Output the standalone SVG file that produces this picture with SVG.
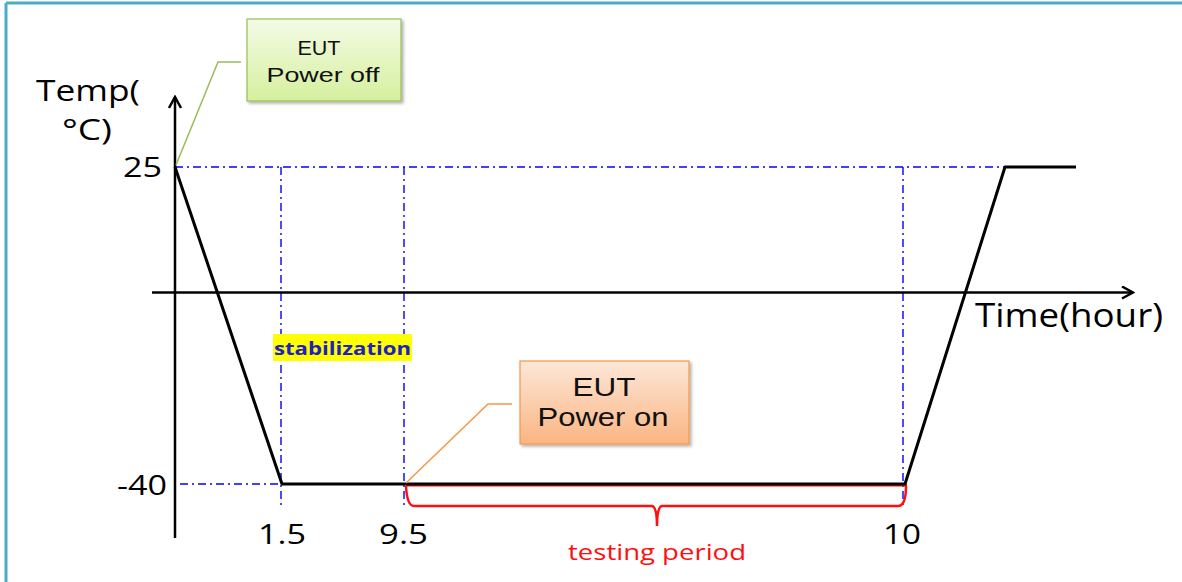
<svg xmlns="http://www.w3.org/2000/svg" width="1182" height="582" viewBox="0 0 1182 582">
<style>
.ax{stroke:#000;stroke-width:2.5;fill:none}
.curve{stroke:#000;stroke-width:3;fill:none;stroke-linejoin:round}
.grid{stroke:#0000ff;stroke-width:1.4;stroke-dasharray:8 4 2 4;fill:none}
.lbl{font-family:"Open Sans","DejaVu Sans",sans-serif;fill:#000}
.box{font-family:"Liberation Sans",Arial,sans-serif;fill:#111;text-anchor:middle}
</style>
<defs>
<linearGradient id="gGreen" x1="0" y1="0" x2="0" y2="1">
<stop offset="0" stop-color="#f3fbe6"/><stop offset="1" stop-color="#d6f09e"/>
</linearGradient>
<linearGradient id="gOrange" x1="0" y1="0" x2="0" y2="1">
<stop offset="0" stop-color="#fde7d8"/><stop offset="1" stop-color="#fab582"/>
</linearGradient>
<filter id="sh" x="-10%" y="-10%" width="130%" height="130%">
<feDropShadow dx="2" dy="2" stdDeviation="1.5" flood-color="#000" flood-opacity="0.3"/>
</filter>
<marker id="arr" markerWidth="14" markerHeight="14" refX="12" refY="7" orient="auto" markerUnits="userSpaceOnUse">
<path d="M1,1 L12,7 L1,13" fill="none" stroke="#000" stroke-width="2.5"/>
</marker>
</defs>
<rect width="1182" height="582" fill="#fff"/>
<line x1="6" y1="3" x2="1182" y2="3" stroke="#4bacc6" stroke-width="3"/>
<line x1="6" y1="3" x2="6" y2="582" stroke="#4bacc6" stroke-width="3"/>

<g id="connectors">
<line class="grid" x1="175" y1="167" x2="1005" y2="167"/>
<line class="grid" x1="180" y1="484" x2="905" y2="484"/>
<line class="grid" x1="281" y1="167" x2="281" y2="506"/>
<line class="grid" x1="404" y1="167" x2="404" y2="506"/>
<line class="grid" x1="903" y1="167" x2="903" y2="506"/>
<line class="ax" x1="175" y1="538" x2="175" y2="97" marker-end="url(#arr)"/>
<line class="ax" x1="152" y1="292.5" x2="1133" y2="292.5" marker-end="url(#arr)"/>
<line x1="406" y1="485" x2="907" y2="485" stroke="#ff1010" stroke-width="3"/>
<path d="M406,486 Q407,506 414,506 L652,506 Q657,507 657,526 Q657,507 662,506 L898,506 Q906,506 906,486" fill="none" stroke="#ff1010" stroke-width="2.5"/>
<polyline class="curve" points="175,167 282,484 905,484 1005,167 1076,167"/>
<polyline points="176,165 218,62 241,62" fill="none" stroke="#9bbb59" stroke-width="1.5"/>
<polyline points="406,483 488,404 512,404" fill="none" stroke="#f79646" stroke-width="1.5"/>
</g>

<g id="node-power-off">
<rect x="247" y="19" width="154" height="82" fill="url(#gGreen)" stroke="#9bbb59" stroke-width="1.2" filter="url(#sh)"/>
<text class="box" x="319" y="55" font-size="21" textLength="43" lengthAdjust="spacingAndGlyphs">EUT</text>
<text class="box" x="323" y="82" font-size="21" textLength="113" lengthAdjust="spacingAndGlyphs">Power off</text>
</g>

<g id="node-power-on">
<rect x="520" y="361" width="169" height="83" fill="url(#gOrange)" stroke="#f79646" stroke-width="1.2" filter="url(#sh)"/>
<text class="box" x="604" y="396" font-size="25" textLength="63" lengthAdjust="spacingAndGlyphs">EUT</text>
<text class="box" x="603" y="426" font-size="25" textLength="131" lengthAdjust="spacingAndGlyphs">Power on</text>
</g>

<g id="node-stabilization">
<rect x="273" y="334" width="139" height="27" fill="#ffff00"/>
<text x="274" y="355" font-family="'Open Sans','DejaVu Sans',sans-serif" font-weight="bold" font-size="18" fill="#2020c0" textLength="137" lengthAdjust="spacingAndGlyphs">stabilization</text>
</g>

<g id="labels">
<text class="lbl" x="36" y="101" font-size="30" textLength="104" lengthAdjust="spacingAndGlyphs">Temp(</text>
<text class="lbl" x="62" y="140" font-size="30" textLength="50" lengthAdjust="spacingAndGlyphs">°C)</text>
<text class="lbl" x="123" y="177" font-size="28" textLength="39" lengthAdjust="spacingAndGlyphs">25</text>
<text class="lbl" x="117" y="495" font-size="28" textLength="50" lengthAdjust="spacingAndGlyphs">-40</text>
<text class="lbl" x="258" y="544" font-size="28" textLength="48" lengthAdjust="spacingAndGlyphs">1.5</text>
<text class="lbl" x="379" y="544" font-size="28" textLength="49" lengthAdjust="spacingAndGlyphs">9.5</text>
<text class="lbl" x="883" y="544" font-size="28" textLength="38" lengthAdjust="spacingAndGlyphs">10</text>
<text class="lbl" x="975" y="327" font-size="32" textLength="188" lengthAdjust="spacingAndGlyphs">Time(hour)</text>
<text x="568" y="560" font-family="'Open Sans','DejaVu Sans',sans-serif" font-size="21" fill="#ff1010" textLength="178" lengthAdjust="spacingAndGlyphs">testing period</text>
</g>
</svg>
